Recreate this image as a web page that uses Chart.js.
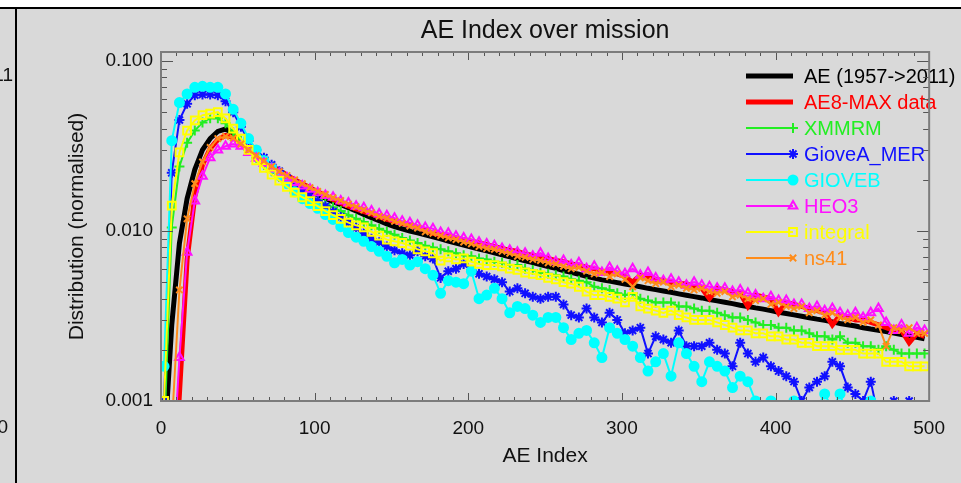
<!DOCTYPE html>
<html>
<head>
<meta charset="utf-8">
<title>AE Index over mission</title>
<script src="https://cdn.jsdelivr.net/npm/chart.js@4.4.1/dist/chart.umd.min.js"></script>
<style>
  html, body { margin: 0; padding: 0; background: #d9d9d9; }
  canvas { display: block; }
</style>
</head>
<body>
<canvas id="aeChart" width="961" height="483"></canvas>
<script>
// AE index bins (5 AE units wide, value at the bin centre)
const aeBins = Array.from({ length: 100 }, (_, i) => 2 + 5 * i);

const seriesNames = ['AE (1957->2011)', 'AE8-MAX data', 'XMMRM', 'GioveA_MER', 'GIOVEB', 'HEO3', 'integral', 'ns41'];

// normalised distributions
const aeHistoric = [
  0.0005, 0.0028, 0.0085, 0.0155, 0.023, 0.030, 0.035, 0.0385, 0.0398, 0.0375,
  0.0330, 0.0298, 0.0275, 0.0256, 0.0238, 0.0222, 0.0208, 0.0195, 0.0184, 0.0174,
  0.0163, 0.0156, 0.0149, 0.0143, 0.0137, 0.0131, 0.0125, 0.0120, 0.0115, 0.0110,
  0.0106, 0.0103, 0.0100, 0.00975, 0.00948, 0.00923, 0.00898, 0.00873, 0.00849, 0.00826,
  0.00804, 0.00783, 0.00764, 0.00743, 0.00724, 0.00705, 0.00687, 0.00668, 0.00652, 0.00635,
  0.00618, 0.00603, 0.00586, 0.00571, 0.00557, 0.00542, 0.00528, 0.00516, 0.00507, 0.00497,
  0.00488, 0.00479, 0.00470, 0.00460, 0.00452, 0.00444, 0.00436, 0.00427, 0.00419, 0.00411,
  0.00404, 0.00395, 0.00388, 0.00381, 0.00374, 0.00366, 0.00360, 0.00353, 0.00347, 0.00340,
  0.00333, 0.00327, 0.00321, 0.00315, 0.00309, 0.00303, 0.00298, 0.00292, 0.00286, 0.00281,
  0.00276, 0.00270, 0.00265, 0.00261, 0.00256, 0.00251, 0.00246, 0.00242, 0.00237, 0.00232
];
const ae8Max = [
  0.0001, 0.0002, 0.0011, 0.0068, 0.0160, 0.0245, 0.0305, 0.0345, 0.0365, 0.0355,
  0.0330, 0.0302, 0.0280, 0.0260, 0.0242, 0.0227, 0.0213, 0.0200, 0.0190, 0.0180,
  0.0170, 0.0162, 0.0153, 0.0146, 0.0140, 0.0135, 0.0130, 0.0126, 0.0121, 0.0117,
  0.0114, 0.0111, 0.0108, 0.0105, 0.0101, 0.0097, 0.0095, 0.0093, 0.0091, 0.0089,
  0.0087, 0.0085, 0.0083, 0.0081, 0.0079, 0.0077, 0.0076, 0.0073, 0.0072, 0.0070,
  0.0069, 0.0067, 0.0066, 0.0064, 0.0063, 0.0061, 0.0060, 0.0058, 0.0057, 0.0056,
  0.0054, 0.0050, 0.0055, 0.0054, 0.0052, 0.0051, 0.0050, 0.0049, 0.0049, 0.0047,
  0.0046, 0.0040, 0.0046, 0.0045, 0.0044, 0.0043, 0.0036, 0.0042, 0.0041, 0.0040,
  0.0033, 0.0038, 0.0037, 0.0036, 0.0035, 0.0034, 0.0033, 0.0028, 0.0032, 0.0031,
  0.0030, 0.0030, 0.0029, 0.0028, 0.0027, 0.0026, 0.0026, 0.0022, 0.0025, 0.0024
];
const xmmrm = [
  0.0006, 0.0105, 0.024, 0.033, 0.039, 0.0435, 0.046, 0.046, 0.043, 0.038,
  0.034, 0.030, 0.027, 0.0245, 0.0225, 0.0208, 0.0193, 0.0180, 0.0170, 0.0160,
  0.0152, 0.0144, 0.0138, 0.0131, 0.0124, 0.0118, 0.0113, 0.0108, 0.0103, 0.0099,
  0.0095, 0.0091, 0.0088, 0.0085, 0.0082, 0.0080, 0.0078, 0.0076, 0.0074, 0.0072,
  0.0071, 0.0069, 0.0068, 0.0066, 0.0065, 0.0063, 0.0063, 0.0060, 0.0059, 0.0057,
  0.0056, 0.0055, 0.0054, 0.0052, 0.0051, 0.0050, 0.0047, 0.0046, 0.0045, 0.0043,
  0.0042, 0.0043, 0.0040, 0.0039, 0.0038, 0.0038, 0.0038, 0.0036, 0.0036, 0.0035,
  0.0034, 0.0034, 0.0033, 0.0032, 0.0031, 0.0031, 0.0030, 0.0029, 0.0028, 0.0028,
  0.0027, 0.0027, 0.0026, 0.0026, 0.0025, 0.0024, 0.0024, 0.0023, 0.0024, 0.0022,
  0.0022, 0.0021, 0.0021, 0.0020, 0.0021, 0.0020, 0.0019, 0.0019, 0.0019, 0.0019
];
const gioveAMer = [
  0.0010, 0.022, 0.045, 0.056, 0.063, 0.0635, 0.0635, 0.063, 0.058, 0.050,
  0.041, 0.034, 0.030, 0.027, 0.0245, 0.0225, 0.0205, 0.0190, 0.0175, 0.0163,
  0.0150, 0.0140, 0.0130, 0.0121, 0.0112, 0.0104, 0.0097, 0.0090, 0.0086, 0.0081,
  0.0077, 0.0074, 0.0072, 0.0076, 0.0071, 0.0069, 0.0053, 0.0058, 0.0060, 0.0064,
  0.0059, 0.0056, 0.0054, 0.0052, 0.0050, 0.0044, 0.0046, 0.0043, 0.0041, 0.0040,
  0.0041, 0.0041, 0.0037, 0.0032, 0.0031, 0.0035, 0.0031, 0.0029, 0.0033, 0.0030,
  0.0025, 0.0026, 0.0027, 0.0019, 0.0024, 0.0023, 0.0022, 0.0026, 0.0021, 0.0021,
  0.0021, 0.0022, 0.0020, 0.0019, 0.0016, 0.0022, 0.0019, 0.0017, 0.0018, 0.0016,
  0.0015, 0.0014, 0.0013, 0.0010, 0.0012, 0.0013, 0.0014, 0.0017, 0.0016, 0.0012,
  0.0011, 0.0010, 0.0013, 0.0008, 0.0009, 0.0010, 0.0009, 0.0010, 0.0008, 0.0009
];
const gioveB = [
  0.0016, 0.034, 0.057, 0.064, 0.070, 0.071, 0.070, 0.070, 0.064, 0.052,
  0.043, 0.035, 0.030, 0.026, 0.0235, 0.0212, 0.0190, 0.0170, 0.0155, 0.0145,
  0.0136, 0.0125, 0.0117, 0.0106, 0.0098, 0.0092, 0.0087, 0.0081, 0.0076, 0.0071,
  0.0065, 0.0068, 0.0063, 0.0066, 0.0060, 0.0055, 0.0043, 0.0051, 0.0050, 0.0049,
  0.0058, 0.0040, 0.0042, 0.0046, 0.0040, 0.0033, 0.0036, 0.0035, 0.0032, 0.0029,
  0.0031, 0.0031, 0.0027, 0.0023, 0.0025, 0.0026, 0.0022, 0.0018, 0.0027, 0.0025,
  0.0023, 0.0021, 0.0018, 0.0015, 0.0017, 0.0019, 0.0014, 0.0022, 0.0019, 0.0016,
  0.0013, 0.0017, 0.0016, 0.0015, 0.0012, 0.0014, 0.0013, 0.0010, 0.0009, 0.0010,
  0.0008, 0.0009, 0.0010, 0.0007, 0.0008, 0.0009, 0.0011, 0.0009, 0.0011, 0.0008,
  0.0007, 0.0008, 0.0010, 0.0007, 0.0006, 0.0007, 0.0006, 0.0005, 0.0006, 0.0005
];
const heo3 = [
  0.0002, 0.0003, 0.0018, 0.0075, 0.0150, 0.0210, 0.0270, 0.0300, 0.0315, 0.0325,
  0.0315, 0.0290, 0.0268, 0.0250, 0.0232, 0.0218, 0.0205, 0.0193, 0.0184, 0.0176,
  0.0168, 0.0162, 0.0158, 0.0150, 0.0146, 0.0140, 0.0137, 0.0131, 0.0126, 0.0123,
  0.0119, 0.0114, 0.0112, 0.0108, 0.0105, 0.0103, 0.0098, 0.0097, 0.0093, 0.0091,
  0.0089, 0.0086, 0.0084, 0.0082, 0.0079, 0.0077, 0.0075, 0.0074, 0.0071, 0.0074,
  0.0069, 0.0066, 0.0067, 0.0063, 0.0065, 0.0060, 0.0062, 0.0057, 0.0061, 0.0058,
  0.0056, 0.0060, 0.0055, 0.0057, 0.0053, 0.0051, 0.0052, 0.0050, 0.0048, 0.0050,
  0.0048, 0.0047, 0.0046, 0.0046, 0.0044, 0.0045, 0.0043, 0.0042, 0.0040, 0.0041,
  0.0039, 0.0039, 0.0037, 0.0037, 0.0035, 0.0036, 0.0034, 0.0035, 0.0033, 0.0032,
  0.0033, 0.0031, 0.0033, 0.0035, 0.0029, 0.0026, 0.0028, 0.0025, 0.0027, 0.0026
];
const integral = [
  0.0010, 0.0141, 0.029, 0.039, 0.0447, 0.048, 0.049, 0.050, 0.046, 0.040,
  0.035, 0.030, 0.026, 0.0235, 0.0215, 0.0198, 0.0182, 0.0168, 0.0158, 0.0150,
  0.0140, 0.0131, 0.0124, 0.0118, 0.0112, 0.0108, 0.0105, 0.0099, 0.0094, 0.0089,
  0.0087, 0.0085, 0.0082, 0.0078, 0.0076, 0.0074, 0.0067, 0.0070, 0.0068, 0.0069,
  0.0066, 0.0064, 0.0063, 0.0063, 0.0062, 0.0060, 0.0059, 0.0057, 0.0056, 0.0055,
  0.0053, 0.0052, 0.0050, 0.0049, 0.0047, 0.0044, 0.0042, 0.0042, 0.0041, 0.0040,
  0.0038, 0.0041, 0.0036, 0.0035, 0.0034, 0.0033, 0.0034, 0.0032, 0.0031, 0.0030,
  0.0030, 0.0030, 0.0029, 0.0028, 0.0027, 0.0026, 0.0026, 0.0025, 0.0025, 0.0024,
  0.0024, 0.0023, 0.0023, 0.0022, 0.0022, 0.0021, 0.0021, 0.0021, 0.0020, 0.0020,
  0.0020, 0.0019, 0.0019, 0.0019, 0.0017, 0.0017, 0.0017, 0.0016, 0.0016, 0.0016
];
const ns41 = [
  0.0003, 0.0007, 0.0045, 0.0118, 0.0190, 0.0255, 0.0310, 0.0350, 0.0360, 0.0352,
  0.0325, 0.0300, 0.0278, 0.0258, 0.0240, 0.0224, 0.0212, 0.0200, 0.0190, 0.0180,
  0.0171, 0.0164, 0.0157, 0.0151, 0.0144, 0.0139, 0.0133, 0.0128, 0.0122, 0.0119,
  0.0114, 0.0111, 0.0107, 0.0104, 0.0099, 0.0097, 0.0094, 0.0091, 0.0089, 0.0086,
  0.0084, 0.0081, 0.0079, 0.0078, 0.0076, 0.0074, 0.0071, 0.0070, 0.0068, 0.0067,
  0.0065, 0.0064, 0.0062, 0.0060, 0.0061, 0.0058, 0.0056, 0.0057, 0.0054, 0.0056,
  0.0052, 0.0047, 0.0053, 0.0051, 0.0049, 0.0050, 0.0047, 0.0048, 0.0046, 0.0045,
  0.0046, 0.0044, 0.0043, 0.0044, 0.0041, 0.0042, 0.0040, 0.0039, 0.0040, 0.0037,
  0.0038, 0.0036, 0.0035, 0.0036, 0.0033, 0.0034, 0.0032, 0.0033, 0.0031, 0.0030,
  0.0031, 0.0029, 0.0030, 0.0028, 0.0021, 0.0027, 0.0026, 0.0027, 0.0025, 0.0025
];

const allSeries = [aeHistoric, ae8Max, xmmrm, gioveAMer, gioveB, heo3, integral, ns41];

const xMajorTicks = [0, 100, 200, 300, 400, 500];
const yMajorTicks = [0.001, 0.01, 0.1];

// drawing styles, one per series
const colors = ['#000000', '#ff0000', '#22ee22', '#1010ff', '#00ffff', '#ff10ff', '#ffff00', '#ff8c1a'];
const lineWidths = [5, 5, 2, 2, 2, 2, 2, 2];
const markers = [false, false, 'cross', 'star', 'circle', 'triangle', 'rect', 'crossRot'];
const markerSizes = [0, 0, 5, 5, 4.5, 5, 5.5, 4.5];

const FONT = '"Liberation Sans", Arial, Helvetica, sans-serif';

const datasets = allSeries.map((vals, i) => ({
  label: seriesNames[i],
  data: aeBins.map((x, j) => ({ x: x, y: vals[j] })),
  borderColor: colors[i],
  backgroundColor: colors[i],
  borderWidth: lineWidths[i],
  pointRadius: markers[i] ? markerSizes[i] : 0,
  pointStyle: markers[i] || 'circle',
  pointBorderColor: colors[i],
  pointBackgroundColor: markers[i] === 'circle' ? colors[i] : 'rgba(0,0,0,0)',
  pointBorderWidth: 2,
  tension: 0,
  order: allSeries.length - 1 - i
}));

// background, outer frame and the cut-off bits of the neighbouring panel
const framePlugin = {
  id: 'frame',
  beforeDraw(chart) {
    const c = chart.ctx;
    c.save();
    c.fillStyle = '#d9d9d9';
    c.fillRect(0, 0, chart.width, chart.height);
    c.fillStyle = '#ffffff';
    c.fillRect(0, 0, chart.width, 7);
    c.strokeStyle = '#000';
    c.lineWidth = 2;
    c.beginPath();
    c.moveTo(0, 8); c.lineTo(chart.width, 8);
    c.moveTo(16, 8); c.lineTo(16, chart.height);
    c.stroke();
    c.fillStyle = '#111';
    c.font = '19px ' + FONT;
    c.textAlign = 'right';
    c.textBaseline = 'middle';
    c.fillText('11', 13, 76);
    c.fillText('0', 8, 428);
    c.restore();
  }
};

// box, inward ticks, titles and legend
const decorPlugin = {
  id: 'decor',
  afterDraw(chart) {
    const c = chart.ctx;
    const { left, right, top, bottom } = chart.chartArea;
    const xs = chart.scales.x, ys = chart.scales.y;
    c.save();

    // legend
    const legX0 = 746, legX1 = 793, legTextX = 804, legY0 = 76, legDy = 26;
    c.font = '20px ' + FONT;
    c.textAlign = 'left';
    c.textBaseline = 'middle';
    seriesNames.forEach((name, i) => {
      const y = legY0 + i * legDy;
      c.strokeStyle = colors[i];
      c.lineWidth = lineWidths[i];
      c.beginPath();
      c.moveTo(legX0, y); c.lineTo(legX1, y);
      c.stroke();
      if (markers[i]) {
        c.fillStyle = markers[i] === 'circle' ? colors[i] : 'rgba(0,0,0,0)';
        c.lineWidth = 2;
        Chart.helpers.drawPoint(c, { pointStyle: markers[i], radius: markerSizes[i], rotation: 0, borderWidth: 2 }, legX1, y);
      }
      c.fillStyle = colors[i];
      c.fillText(name, legTextX, y + 1);
    });

    // ticks (pointing into the plot)
    c.strokeStyle = '#555';
    c.lineWidth = 1;
    c.beginPath();
    for (let v = 0; v <= 500; v += 10) {
      const px = Math.round(xs.getPixelForValue(v)) + 0.5;
      const len = xMajorTicks.includes(v) ? 8 : 4;
      c.moveTo(px, bottom); c.lineTo(px, bottom - len);
      c.moveTo(px, top); c.lineTo(px, top + len);
    }
    yMajorTicks.forEach(d => {
      for (let m = 1; m <= 9; m++) {
        const v = d * m;
        if (v > ys.max) break;
        const py = Math.round(ys.getPixelForValue(v)) + 0.5;
        const len = m === 1 ? 12 : 6;
        c.moveTo(left, py); c.lineTo(left + len, py);
        c.moveTo(right, py); c.lineTo(right - len, py);
      }
    });
    c.stroke();

    // plot box
    c.strokeStyle = '#7c7c7c';
    c.lineWidth = 2;
    c.strokeRect(left, top, right - left, bottom - top);

    // titles
    c.fillStyle = '#111';
    c.textAlign = 'center';
    c.textBaseline = 'middle';
    c.font = '25px ' + FONT;
    c.fillText('AE Index over mission', (left + right) / 2, 31);
    c.font = '21px ' + FONT;
    c.fillText('AE Index', (left + right) / 2, 456);
    c.translate(77, (top + bottom) / 2);
    c.rotate(-Math.PI / 2);
    c.fillText('Distribution (normalised)', 0, 0);
    c.restore();
  }
};

new Chart(document.getElementById('aeChart'), {
  type: 'line',
  data: { datasets: datasets },
  options: {
    responsive: false,
    animation: false,
    events: [],
    layout: { padding: { top: 52, right: 28, left: 0, bottom: 0 } },
    plugins: {
      legend: { display: false },
      tooltip: { enabled: false },
      title: { display: false }
    },
    scales: {
      x: {
        type: 'linear',
        min: 0,
        max: 500,
        afterFit: s => { s.height = 82; },
        afterBuildTicks: s => { s.ticks = xMajorTicks.map(v => ({ value: v })); },
        grid: { display: false, drawTicks: false },
        border: { display: false },
        ticks: { color: '#111', font: { family: FONT, size: 19 }, padding: 16, maxRotation: 0, autoSkip: false }
      },
      y: {
        type: 'logarithmic',
        min: 0.001,
        max: 0.113,
        afterFit: s => { s.width = 161; },
        afterBuildTicks: s => { s.ticks = yMajorTicks.map(v => ({ value: v })); },
        grid: { display: false, drawTicks: false },
        border: { display: false },
        ticks: {
          color: '#111',
          font: { family: FONT, size: 19 },
          padding: 8,
          autoSkip: false,
          callback: v => Number(v).toFixed(3)
        }
      }
    }
  },
  plugins: [framePlugin, decorPlugin]
});
</script>
</body>
</html>
